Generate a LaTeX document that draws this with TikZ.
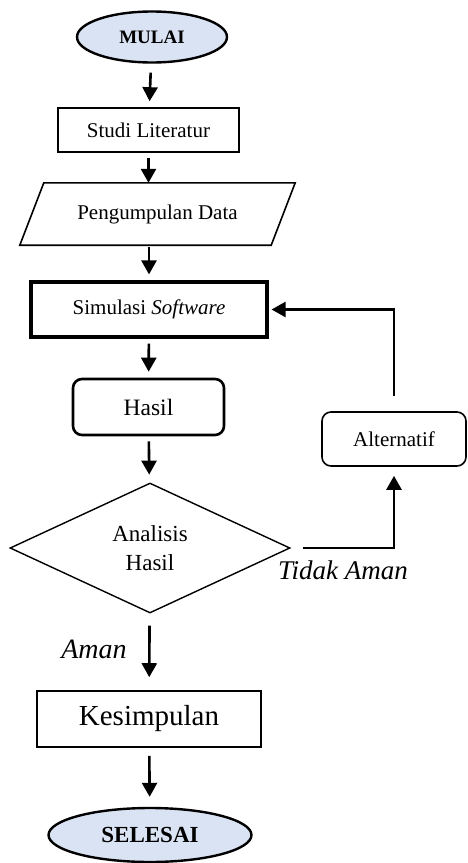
\documentclass[tikz,border=0pt]{standalone}
\usepackage{fontspec}
\setmainfont{Liberation Serif}
\usetikzlibrary{arrows.meta,shapes.geometric,calc}
\definecolor{ink}{HTML}{000000}
\definecolor{terminal}{HTML}{DAE3F3}

\begin{document}
\begin{tikzpicture}[x=1pt,y=-1pt,>={Triangle[width=15pt,length=14pt]},ink,
  flow/.style={->,line width=2.6pt,shorten <=5pt,shorten >=6pt},
  terminator/.style={ellipse,draw,line width=2.4pt,fill=terminal,inner sep=0pt,
    font=\bfseries\fontsize{19}{22}\selectfont},
  process/.style={rectangle,draw,line width=1.6pt,inner sep=0pt,
    font=\fontsize{21}{25}\selectfont},
  rounded/.style={process,rounded corners=9pt},
  decision/.style={diamond,draw,line width=1.4pt,inner sep=0pt,aspect=2.15,
    align=center,font=\fontsize{23}{29}\selectfont},
  answer/.style={font=\itshape\fontsize{27}{30}\selectfont}]
  \useasboundingbox (0,0) rectangle (468,863);

  % main column
  \node[terminator,minimum width=150,minimum height=51] (mulai) at (152,37) {MULAI};
  \node[process,minimum width=181,minimum height=44] (studi) at (148.5,130) {Studi Literatur};
  \node[minimum width=251,minimum height=62,inner sep=0pt,
    font=\fontsize{21}{25}\selectfont] (data) at (157.5,214) {Pengumpulan Data};
  \draw[line width=1.6pt] ([xshift=12]data.north west) -- ([xshift=12]data.north east)
    -- ([xshift=-12]data.south east) -- ([xshift=-12]data.south west) -- cycle;
  \node[process,line width=3.2pt,minimum width=236,minimum height=55] (simulasi)
    at (149,309.5) {Simulasi \textit{Software}};
  \node[rounded,line width=2.6pt,minimum width=151,minimum height=56,
    font=\fontsize{23.5}{27}\selectfont] (hasil) at (148.5,407) {Hasil};
  \node[decision,minimum width=280,minimum height=130] (analisis) at (150,548)
    {Analisis\\Hasil};
  \node[process,minimum width=224,minimum height=56,
    font=\fontsize{29}{33}\selectfont] (kesimpulan) at (149,719) {Kesimpulan};
  \node[terminator,minimum width=203,minimum height=54,
    font=\bfseries\fontsize{23}{26}\selectfont] (selesai) at (150,835) {SELESAI};

  % side branch
  \node[rounded,minimum width=144,minimum height=54] (alt) at (394,439) {Alternatif};
  \node[answer] (tidak) at (343,570) {Tidak Aman};
  \node[answer,font=\itshape\fontsize{28}{30}\selectfont] (aman) at (94,649) {Aman};

  % arrows
  \draw[flow,shorten <=9pt] (mulai) -- (studi);
  \draw[flow,shorten >=0pt] (studi.south) -- (studi.south |- data.north);
  \draw[flow,shorten <=2pt] (simulasi.north |- data.south) -- (simulasi.north);
  \draw[flow] (simulasi) -- (hasil);
  \draw[flow,shorten >=8pt] (hasil) -- (analisis);
  \draw[flow,shorten <=12pt,shorten >=13pt] (analisis) -- (kesimpulan);
  \draw[flow,shorten <=8pt,shorten >=10pt] (kesimpulan) -- (selesai);
  \draw[flow,shorten <=12pt,shorten >=9pt] (analisis.east) -| (alt.south);
  \draw[flow,shorten <=15pt,shorten >=3pt] (alt.north) |- (simulasi.east);
\end{tikzpicture}
\end{document}
